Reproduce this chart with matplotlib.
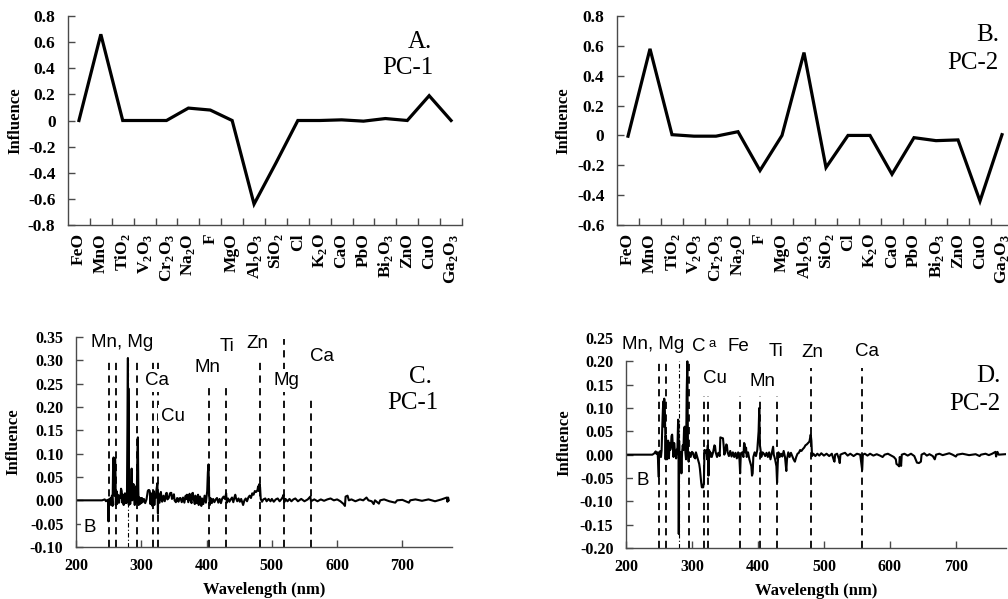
import numpy as np
import matplotlib
matplotlib.use("Agg")
import matplotlib.pyplot as plt
from matplotlib.ticker import FuncFormatter, FixedLocator

plt.rcParams['font.family'] = ['Liberation Serif', 'DejaVu Serif']
plt.rcParams['mathtext.fontset'] = 'custom'
plt.rcParams['mathtext.rm'] = 'Liberation Serif'
plt.rcParams['mathtext.bf'] = 'Liberation Serif:bold'
plt.rcParams['axes.unicode_minus'] = False

# oxide loadings (panels A and B)
oxides = ['FeO', 'MnO', r'TiO$_\mathbf{2}$', r'V$_\mathbf{2}$O$_\mathbf{3}$',
          r'Cr$_\mathbf{2}$O$_\mathbf{3}$', r'Na$_\mathbf{2}$O', 'F', 'MgO',
          r'Al$_\mathbf{2}$O$_\mathbf{3}$', r'SiO$_\mathbf{2}$', 'Cl', r'K$_\mathbf{2}$O',
          'CaO', 'PbO', r'Bi$_\mathbf{2}$O$_\mathbf{3}$', 'ZnO', 'CuO',
          r'Ga$_\mathbf{2}$O$_\mathbf{3}$']
pc1_oxide = [0.0, 0.66, 0.0, 0.0, 0.0, 0.095, 0.08, 0.0, -0.64, -0.325,
             0.0, 0.0, 0.005, -0.005, 0.015, 0.0, 0.19, 0.0]
pc2_oxide = [-0.005, 0.58, 0.005, -0.005, -0.005, 0.025, -0.235, 0.0, 0.555, -0.215,
             0.0, 0.0, -0.26, -0.015, -0.035, -0.03, -0.44, 0.005]

# LIBS loading spectra (panels C and D)
pc1_wl = [200, 240, 244, 246, 248, 249.5, 249.7, 250, 251, 252, 253, 254, 255, 256, 257,
          257.6, 258, 259, 259.5, 260, 260.6, 261, 262, 263, 264, 265, 266, 267, 268, 269,
          270, 271, 272, 273, 274, 275, 276, 277, 278, 279.5, 280, 280.3, 281, 282, 283,
          284, 285.2, 286, 287, 288, 289, 290, 291, 292, 293, 294, 294.8, 295.5, 296, 297,
          298, 299, 300, 301, 302, 304, 306, 308, 310, 311, 312, 313, 314, 315, 316,
          317, 318, 319, 320, 321, 322, 323, 324.7, 325.5, 326, 327, 328, 330, 331, 332,
          334, 336, 338, 339, 340, 342, 344, 345, 346, 347, 349, 350, 351, 353, 355,
          357, 358, 360, 362, 364, 366, 368, 369, 370, 372, 374, 375, 377, 378, 379,
          380, 382, 383, 385, 387, 388, 390, 392, 393, 395, 397, 399, 401, 402, 403,
          404, 405, 406, 408, 410, 412, 414, 416, 418, 420, 422, 424, 426, 428, 430,
          431, 433, 435, 437, 439, 441, 443, 444, 445, 447, 449, 451, 453, 455, 456,
          458, 460, 462, 464, 466, 468, 470, 472, 474, 476, 478, 479, 480, 481, 482,
          483, 485, 487, 490, 492, 495, 498, 500, 503, 506, 509, 512, 515, 517, 518,
          519, 521, 524, 527, 530, 533, 536, 540, 545, 550, 555, 558.9, 560, 565, 570,
          575, 580, 585, 590, 595, 600, 605, 610, 612, 613, 616, 618, 622, 628, 635,
          640, 645, 648, 653, 656, 658, 664, 666, 672, 680, 689, 692, 700, 710, 712,
          720, 730, 740, 750, 760, 768, 769, 770, 771]
pc1_val = [0, 0, 0.002, -0.002, 0.001, 0, -0.045, 0, 0.003, -0.01, 0.005, -0.008, 0.01, -0.012, 0.09,
           0.092, 0.09, 0.01, 0.088, 0.09, 0.05, -0.01, 0.02, -0.008, 0.012, 0.005, -0.005, 0.01, 0.005, 0.025,
           0.02, -0.005, 0.012, -0.01, 0.008, 0.015, -0.006, 0.005, -0.005, 0.305, 0.0, 0.24, -0.01, 0.01, -0.008,
           0.005, 0.068, 0.0, 0.01, 0.035, 0.005, -0.01, 0.01, 0.03, -0.005, 0.1, 0.135, 0.02, -0.01, 0.006,
           -0.008, 0.004, -0.006, 0.005, -0.004, 0.003, -0.006, 0.002, 0.02, 0.022, 0.022, 0.02, -0.008, 0.015, 0.01,
           -0.012, 0.005, 0.02, -0.01, 0.01, 0.005, 0.02, 0.037, -0.028, 0.015, 0.005, -0.005, 0.018, 0.005, -0.003,
           0.01, -0.002, 0.015, 0.016, 0.002, 0.005, 0.015, 0.016, 0.016, 0.003, 0.008, 0.013, 0.0, -0.004, 0.005,
           -0.003, 0.004, 0.005, -0.004, 0.006, -0.005, 0.01, 0.003, 0.012, -0.004, 0.014, 0.002, -0.006, 0.015, 0.016,
           0.005, -0.008, 0.01, -0.006, 0.012, -0.01, 0.008, -0.012, 0.004, -0.008, 0.01, -0.005, 0.02, 0.06, 0.077,
           0.01, -0.01, 0.005, -0.006, 0.003, -0.004, 0.002, 0.005, -0.005, 0.003, -0.006, 0.004, 0.008, 0.003, 0.015,
           -0.005, 0.004, -0.003, 0.002, 0.006, -0.004, 0.008, 0.012, 0.005, -0.002, 0.004, -0.003, 0.003, -0.006, -0.01,
           0.0, 0.004, -0.002, 0.006, 0.01, 0.005, 0.015, 0.012, 0.02, 0.018, 0.022, 0.03, 0.02, 0.035, 0.028,
           0.003, -0.003, 0.002, 0.004, -0.002, 0.003, -0.002, 0.003, -0.003, 0.002, 0.004, -0.002, 0.003, 0.008, 0.012,
           -0.004, 0.003, -0.002, 0.003, -0.002, 0.002, 0.004, -0.002, 0.003, -0.002, 0.002, 0.008, -0.002, 0.002, -0.002,
           0.002, -0.001, 0.002, 0.004, 0.0, 0.002, -0.002, -0.008, -0.012, 0.008, 0.01, 0.0, 0.002, -0.002, 0.002,
           0.0, 0.006, 0.0, -0.002, -0.008, 0.0, -0.007, 0.0, 0.002, -0.002, -0.005, 0.0, 0.001, -0.005, 0.0,
           0.002, -0.001, 0.002, -0.002, 0.002, 0.006, -0.003, 0.006, 0.0]

pc2_wl = [200, 240, 243, 245, 246, 248, 249.7, 250.2, 251, 252, 253, 254, 255, 256, 257,
          257.6, 258, 259, 259.5, 260, 260.5, 261, 262, 263, 264, 265, 266, 267, 268, 269,
          270, 271, 272, 273, 274, 275, 276, 277, 278, 279, 279.5, 280, 280.5, 281, 282,
          283, 284, 285, 286, 287, 288, 289, 290, 291, 292, 293, 294, 295, 296, 298,
          300, 302, 303, 305, 306, 308, 309, 310, 311, 312, 313, 314, 315, 317, 318,
          319, 320, 322, 323, 324, 325, 326, 327, 328, 330, 332, 334, 335, 336, 338,
          340, 342, 343, 345, 347, 348, 349, 350, 352, 353, 354, 356, 358, 360, 362,
          364, 366, 368, 370, 372, 373, 374, 376, 378, 379, 380, 381, 382, 383, 385,
          387, 389, 390, 391, 392, 393, 395, 397, 399, 401, 402, 403, 404, 405, 407,
          409, 411, 413, 415, 417, 419, 421, 423, 424, 426, 428, 429, 430, 431, 433,
          435, 437, 439, 441, 443, 444, 446, 448, 450, 452, 454, 456, 458, 460, 462,
          464, 466, 468, 470, 472, 474, 476, 478, 479, 480, 481, 482, 484, 487, 490,
          493, 496, 500, 504, 508, 512, 515, 516, 517, 520, 523, 524, 525, 528, 532,
          536, 540, 545, 550, 555, 558, 559, 562, 566, 570, 575, 580, 585, 589, 592,
          597, 602, 606, 609, 610, 612, 614, 615, 617, 618, 622, 627, 632, 637, 641,
          644, 647, 648, 652, 656, 660, 665, 668, 670, 675, 680, 690, 695, 700, 702,
          710, 720, 730, 736, 738, 745, 750, 755, 760, 761, 763, 765, 775]
pc2_val = [0, 0, 0.003, 0.007, 0.002, 0.005, -0.048, 0.005, 0.002, 0.008, -0.005, 0.01, 0.06, 0.1, 0.115,
           0.06, 0.12, 0.08, 0.05, -0.01, 0.04, 0.03, -0.01, 0.02, 0.03, -0.008, 0.025, 0.01, 0.015, 0.04,
           0.043, 0.02, -0.005, 0.025, 0.01, 0.005, -0.008, 0.01, 0.015, 0.075, 0.07, -0.17, 0.03, 0.0, -0.01,
           0.005, -0.04, 0.005, 0.02, 0.01, 0.055, 0.06, 0.005, -0.01, 0.135, 0.2, 0.0, -0.015, 0.005, -0.005,
           0.006, 0.003, -0.005, -0.008, 0.005, -0.005, -0.01, -0.015, -0.02, -0.03, -0.045, -0.06, -0.07, -0.07, -0.06,
           0.01, 0.005, 0.01, -0.01, 0.02, -0.045, 0.01, -0.005, 0.005, -0.005, 0.005, 0.02, 0.018, 0.005, -0.005,
           0.004, -0.003, 0.037, 0.036, 0.035, 0.02, 0.0, 0.004, 0.022, 0.02, 0.005, -0.003, 0.008, -0.004, 0.005,
           -0.005, 0.004, -0.008, 0.005, -0.01, -0.04, 0.0, 0.005, -0.005, 0.025, 0.022, 0.005, 0.015, -0.005, 0.005,
           -0.01, -0.02, -0.025, -0.045, -0.04, -0.005, 0.005, -0.003, 0.01, 0.05, 0.1, 0.02, 0.01, -0.005, 0.005,
           0.002, -0.003, 0.004, -0.005, 0.005, -0.01, 0.003, 0.017, 0.0, -0.01, -0.025, -0.06, -0.02, 0.005, -0.005,
           0.002, -0.004, 0.008, -0.005, -0.035, -0.01, 0.005, -0.005, 0.004, -0.003, -0.01, -0.015, -0.005, 0.002, 0.004,
           0.01, 0.008, 0.012, 0.015, 0.02, 0.022, 0.025, 0.028, 0.035, 0.043, 0.03, -0.003, 0.002, -0.003, 0.002,
           -0.002, 0.003, -0.002, 0.002, -0.003, 0.002, -0.012, -0.015, 0.0, 0.002, -0.01, -0.018, 0.0, 0.002, 0.004,
           -0.002, 0.002, -0.003, 0.002, 0.0, -0.033, 0.0, 0.002, -0.002, 0.002, -0.002, 0.001, -0.002, -0.005, 0.0,
           0.002, -0.002, -0.005, -0.01, -0.02, -0.022, -0.025, -0.005, -0.024, 0.0, 0.002, -0.002, 0.002, -0.003, -0.017,
           -0.018, -0.015, 0.0, 0.003, -0.002, 0.001, -0.003, -0.01, 0.0, 0.002, -0.001, 0.003, 0.0, -0.004, 0.0,
           0.002, -0.001, 0.001, -0.003, 0.0, 0.002, -0.001, 0.002, 0.006, -0.004, 0.006, 0.0, 0.001]

# emission line markers: wavelength, top of the dashed line
pc1_lines = [250, 260.6, 280, 294, 318.5, 325, 403.5, 430.5, 482, 519, 560]
pc1_tops = [0.305, 0.305, 0.305, 0.305, 0.305, 0.305, 0.243, 0.243, 0.303, 0.346, 0.223]
pc2_lines = [250.5, 260.6, 279.8, 295, 317.7, 324.7, 373, 402.5, 429.3, 480.8, 558]
pc2_tops = [0.2, 0.2, 0.2, 0.2, 0.125, 0.125, 0.125, 0.125, 0.125, 0.186, 0.186]

pc1_labels = [('Mn, Mg', 271, 0.339), ('Ca', 323.5, 0.257), ('Cu', 348, 0.179),
              ('Mn', 401, 0.284), ('Ti', 430.6, 0.33), ('Zn', 478, 0.336),
              ('Mg', 523, 0.257), ('Ca', 577.5, 0.309), ('B', 221, -0.059)]
pc2_labels = [('Mn, Mg', 241, 0.236), ('C', 311, 0.232), ('Fe', 370, 0.232),
              ('Ti', 428, 0.221), ('Zn', 482, 0.218), ('Ca', 566, 0.221),
              ('Cu', 335, 0.163), ('Mn', 407, 0.157), ('B', 225, -0.056)]

SPINE = '#4a4a4a'
W, H = 1008, 599


def px_axes(left, top, right, bottom):
    return [left / W, 1 - bottom / H, (right - left) / W, (bottom - top) / H]


def style(ax, size):
    for s in ['top', 'right']:
        ax.spines[s].set_visible(False)
    for s in ['left', 'bottom']:
        ax.spines[s].set_color(SPINE)
        ax.spines[s].set_linewidth(1.0)
    ax.tick_params(which='both', direction='in', color=SPINE, width=1.0, length=5,
                   labelsize=size)
    for lab in ax.get_yticklabels():
        lab.set_fontweight('bold')
    ax.set_ylabel('Influence', fontsize=12, fontweight='bold')


def fmt_g(v, p):
    v = round(v, 2)
    return '%g' % (0 if abs(v) < 1e-9 else v)


def oxide_panel(ax, vals, ylim, yticks, tag, pc, tagpos, pcpos, lab_x):
    x = np.arange(len(oxides))
    ax.plot(x, vals, color='black', lw=2.3, solid_joinstyle='miter')
    ax.set_xlim(-0.5, len(oxides) - 0.5)
    ax.set_ylim(*ylim)
    ax.set_yticks(yticks)
    ax.yaxis.set_major_formatter(FuncFormatter(fmt_g))
    ax.set_xticks(x)
    ax.set_xticklabels(oxides, rotation=90, fontweight='bold', fontsize=12.5)
    ax.xaxis.set_minor_locator(FixedLocator(np.arange(0.5, len(oxides), 1.0)))
    style(ax, 12.5)
    ax.tick_params(axis='x', which='major', length=0, pad=6, labelsize=12.5)
    ax.tick_params(axis='y', pad=9)
    ax.yaxis.set_label_coords(lab_x, 0.5)
    ax.text(*tagpos, tag, transform=ax.transAxes, fontsize=18, ha='center', va='center')
    ax.text(*pcpos, pc, transform=ax.transAxes, fontsize=18, ha='center', va='center')


def spectrum_panel(ax, wl, val, lines, tops, labels, ylim, yticks, tag, pc, tagpos, pcpos, lab_x):
    ax.set_xlim(200, 776)
    ax.set_ylim(*ylim)
    for i, (w, t) in enumerate(zip(lines, tops)):
        if i == 2:
            ax.vlines(w, ylim[0], t, colors='black', linestyles=(0, (4, 2, 1, 2)), lw=0.8, zorder=1)
        else:
            ax.vlines(w, ylim[0], t, colors='black', linestyles=(0, (4, 3)), lw=1.3, zorder=1)
    ax.plot(wl, val, color='black', lw=1.5, zorder=2)
    for txt, x, y in labels:
        ax.text(x, y, txt, fontsize=13.5, family=['Liberation Sans'], ha='center', va='center',
                zorder=3, bbox=dict(facecolor='white', edgecolor='none', pad=2))
    ax.set_yticks(yticks)
    ax.yaxis.set_major_formatter(FuncFormatter(lambda v, p: '%.2f' % (0 if abs(v) < 1e-9 else v)))
    ax.set_xticks([200, 300, 400, 500, 600, 700])
    style(ax, 11.5)
    for lab in ax.get_xticklabels():
        lab.set_fontweight('bold')
    ax.tick_params(axis='x', pad=8)
    ax.tick_params(axis='y', pad=9)
    ax.set_xlabel('Wavelength (nm)', fontsize=12, fontweight='bold', labelpad=6)
    ax.yaxis.set_label_coords(lab_x, 0.5)
    ax.text(*tagpos, tag, transform=ax.transAxes, fontsize=18, ha='center', va='center')
    ax.text(*pcpos, pc, transform=ax.transAxes, fontsize=18, ha='center', va='center')


fig = plt.figure(figsize=(W / 100, H / 100), dpi=100)

axA = fig.add_axes(px_axes(68, 16, 462, 225))
oxide_panel(axA, pc1_oxide, (-0.8, 0.8), np.arange(-0.8, 0.81, 0.2),
            'A.', 'PC-1', (0.893, 0.876), (0.863, 0.751), -0.112)

axB = fig.add_axes(px_axes(617, 16, 1013, 225))
oxide_panel(axB, pc2_oxide, (-0.6, 0.8), np.arange(-0.6, 0.81, 0.2),
            'B.', 'PC-2', (0.937, 0.909), (0.899, 0.775), -0.114)

axC = fig.add_axes(px_axes(76, 337, 452, 547))
spectrum_panel(axC, pc1_wl, pc1_val, pc1_lines, pc1_tops, pc1_labels, (-0.10, 0.35),
               np.arange(-0.10, 0.351, 0.05), 'C.', 'PC-1', (0.915, 0.81), (0.897, 0.686), -0.144)

axD = fig.add_axes(px_axes(626, 338, 1006, 548))
spectrum_panel(axD, pc2_wl, pc2_val, pc2_lines, pc2_tops, pc2_labels, (-0.20, 0.25),
               np.arange(-0.20, 0.251, 0.05), 'D.', 'PC-2', (0.953, 0.819), (0.918, 0.686), -0.142)
axD.text(331, 0.237, 'a', fontsize=9.5, family=['Liberation Sans'], ha='center', va='center')
axD.spines['left'].set_bounds(-0.20, 0.20)
axD.yaxis.get_major_ticks()[-1].tick1line.set_visible(False)

fig.savefig('out.png', dpi=100)
